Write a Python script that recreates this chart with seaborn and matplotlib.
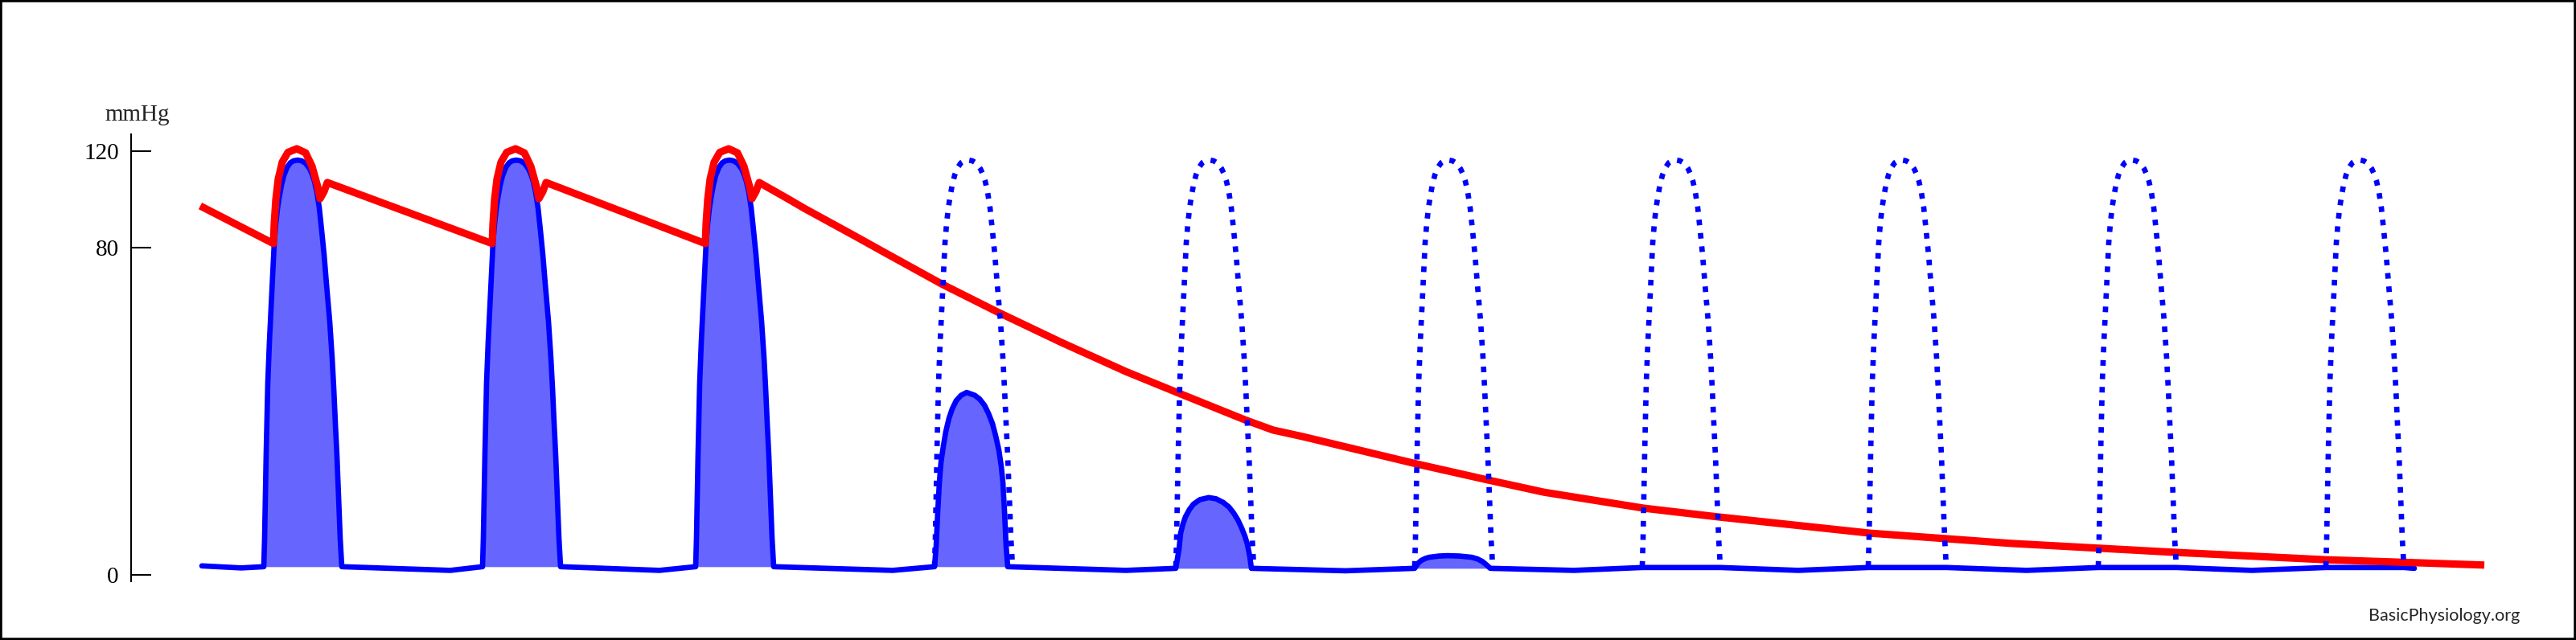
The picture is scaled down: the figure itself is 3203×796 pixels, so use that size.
import numpy as np
import matplotlib
matplotlib.use("Agg")
import matplotlib.pyplot as plt
from matplotlib.patches import Rectangle
import seaborn as sns

# time axis is in arbitrary units (same spacing as the original drawing)
beat_start = [328, 600, 865, 1162, 1462, 1759, 2042, 2323, 2609, 2892]
n_full = 3  # beats that eject normally

# full ventricular pulse: offset from onset, mmHg
pulse_t = [0, 1, 3, 5, 7, 9, 11, 13, 15, 17, 19, 22, 25, 29, 33, 37, 42, 47, 52, 57, 60,
           63, 66, 69, 72, 75, 78, 82, 85, 87, 89, 91, 93, 95, 97]
pulse_p = [2.0, 8.9, 30.0, 47.0, 57.0, 65.0, 73.0, 82.0, 90.0, 96.0, 100.5, 106.0, 110.0,
           113.3, 115.2, 116.0, 116.3, 116.0, 115.0, 112.7, 110.5, 107.5, 103.0, 96.5, 87.0,
           78.2, 71.0, 61.9, 53.0, 45.6, 37.0, 29.0, 19.0, 8.9, 2.0]

# weakening beats after the occlusion
beat4_t = [0, 2, 4, 6, 8, 11, 14, 18, 22, 27, 33, 40, 50, 56, 62, 67, 72, 76, 80, 83, 85,
           87, 89, 91]
beat4_p = [2.0, 7.0, 15.5, 22.6, 27.5, 31.5, 35.0, 38.3, 40.6, 42.6, 43.9, 44.6, 43.9, 43.0,
           41.5, 39.5, 37.0, 34.0, 30.5, 26.5, 22.6, 15.5, 7.0, 2.0]
beat5_t = [0, 2, 4, 6, 9, 12, 17, 22, 30, 41, 50, 59, 66, 72, 77, 82, 86, 89, 92, 94]
beat5_p = [1.6, 4.0, 6.3, 10.2, 12.5, 14.2, 16.0, 17.3, 18.4, 18.9, 18.6, 17.7, 16.6, 15.1,
           13.5, 11.4, 9.4, 7.5, 4.5, 1.6]
beat6_t = [0, 4, 8, 13, 18, 30, 41, 56, 71, 78, 84, 89, 94]
beat6_p = [1.6, 2.8, 3.5, 4.0, 4.3, 4.6, 4.7, 4.6, 4.3, 3.9, 3.3, 2.5, 1.6]

# diastolic ventricular baseline
lv_first = (251, 2.2)
lv_last = (3002, 1.6)
dip_t = [300, 560, 820, 1110, 1400, 1673, 1957, 2236, 2520, 2800]
dip_p = [1.7, 1.1, 1.1, 1.1, 1.1, 1.0, 1.1, 1.1, 1.1, 1.1]
flat_p = 1.8

# aortic pressure
ao_first = (249, 97.3)
ao_sys_t = [12, 13, 15, 18, 23, 30, 41, 52, 60, 67, 70, 75, 79]
ao_sys_p = [81.7, 90.0, 100.0, 108.5, 115.5, 119.5, 121.0, 119.3, 113.7, 105.3, 100.3,
            103.3, 107.0]
ao_decay_t = [981, 1000, 1062, 1100, 1172, 1240, 1320, 1400, 1466, 1548, 1583, 1620, 1762,
              1850, 1920, 2044, 2135, 2325, 2500, 2705, 2892, 2985, 3089]
ao_decay_p = [100.0, 96.3, 85.0, 78.8, 71.0, 64.3, 56.8, 49.7, 44.4, 37.9, 35.4, 33.8, 27.1,
              23.2, 20.2, 16.3, 14.2, 10.2, 7.7, 5.5, 3.7, 3.1, 2.4]

y_ticks = [0, 80, 120]
y_ticklabels = ["0", "80", "120"]

RED = "#FF0000"
BLUE = "#0000FF"
FILL = "#6666FF"


def _fwd(v):
    v = np.asarray(v, dtype=float)
    return np.where(v <= 80, v * 5.0875, 407 + (v - 80) * 3.0)


def _inv(u):
    u = np.asarray(u, dtype=float)
    return np.where(u <= 407, u / 5.0875, 80 + (u - 407) / 3.0)


weak = [(beat4_t, beat4_p), (beat5_t, beat5_p), (beat6_t, beat6_p)]


def beat_shape(i):
    if i < n_full:
        return pulse_t, pulse_p
    if i < n_full + len(weak):
        return weak[i - n_full]
    return None


# build the ventricular trace
lv_t, lv_p = [lv_first[0]], [lv_first[1]]
for i, t0 in enumerate(beat_start):
    lv_t.append(dip_t[i]); lv_p.append(dip_p[i])
    shape = beat_shape(i)
    bt, bp = shape if shape else ([0, pulse_t[-1]], [flat_p, flat_p])
    lv_t += [t0 + o for o in bt]
    lv_p += list(bp)
lv_t.append(lv_last[0]); lv_p.append(lv_last[1])

# build the aortic trace
ao_t, ao_p = [ao_first[0]], [ao_first[1]]
for t0 in beat_start[:n_full]:
    ao_t += [t0 + o for o in ao_sys_t]
    ao_p += ao_sys_p
ao_t += ao_decay_t
ao_p += ao_decay_p

sns.set_style("white")
fig = plt.figure(figsize=(32.03, 7.96), dpi=100)
ax = fig.add_axes([163 / 3203, 0, 1 - 163 / 3203, 1])
ax.set_yscale("function", functions=(_fwd, _inv))

for i, t0 in enumerate(beat_start):
    shape = beat_shape(i)
    if shape is None:
        continue
    bt, bp = shape
    ax.fill_between([t0 + o for o in bt], bp, bp[0], color=FILL, linewidth=0, zorder=2)

sns.lineplot(x=lv_t, y=lv_p, sort=False, estimator=None, color=BLUE, linewidth=4.8,
             solid_joinstyle="round", ax=ax, zorder=3)

sns.lineplot(x=ao_t, y=ao_p, sort=False, estimator=None, color=RED, linewidth=6.6,
             solid_joinstyle="round", solid_capstyle="butt", ax=ax, zorder=4)

for t0 in beat_start[n_full:]:
    sns.lineplot(x=[t0 + o for o in pulse_t], y=pulse_p, sort=False, estimator=None,
                 color=BLUE, linewidth=4.8, linestyle=(0, (1.05, 1.45)), ax=ax, zorder=5)

ax.set_xlim(163, 3203)
ax.set_ylim(_inv(-81), _inv(715))
ax.set_xlabel("")
ax.set_ylabel("")
ax.set_xticks([])
ax.set_yticks(y_ticks)
ax.set_yticklabels(y_ticklabels, fontfamily="Liberation Serif", fontsize=21)
ax.tick_params(axis="y", left=True, direction="in", length=18, width=1.5, pad=11,
               colors="black")
for side in ["top", "right", "bottom"]:
    ax.spines[side].set_visible(False)
ax.spines["left"].set_linewidth(1.5)
ax.spines["left"].set_color("black")
ax.spines["left"].set_bounds(float(_inv(-8)), float(_inv(548)))
ax.set_facecolor("white")

ax.text(171, float(_inv(565)), "mmHg", ha="center", va="baseline",
        fontfamily="Liberation Serif", fontsize=21)
ax.text(3133, float(_inv(-57)), "BasicPhysiology.org", ha="right", va="baseline",
        fontfamily="Lato", fontsize=15.5)

fig.add_artist(Rectangle((0, 0), 1, 1, transform=fig.transFigure, fill=False,
                         edgecolor="black", linewidth=4))

fig.savefig("out.png", dpi=100, facecolor="white")
